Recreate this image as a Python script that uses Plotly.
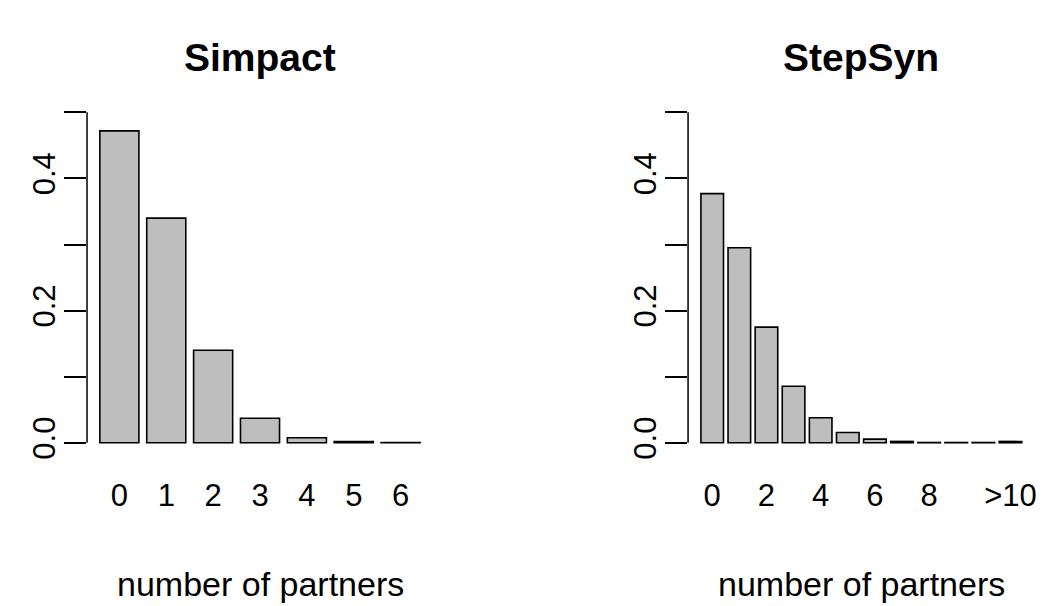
import plotly.graph_objects as go

# ---- data ----
simpact_categories = ["0", "1", "2", "3", "4", "5", "6"]
simpact_values = [0.472, 0.340, 0.140, 0.037, 0.0075, 0.002, 0.0004]

stepsyn_categories = ["0", "1", "2", "3", "4", "5", "6", "7", "8", "9", "10", ">10"]
stepsyn_values = [0.377, 0.295, 0.175, 0.0856, 0.0378, 0.0156, 0.0055, 0.002,
                  0.0004, 0.0004, 0.0004, 0.002]
stepsyn_shown_labels = ["0", "2", "4", "6", "8", ">10"]

y_tick_values = [0.0, 0.1, 0.2, 0.3, 0.4, 0.5]
y_tick_labels = ["0.0", "", "0.2", "", "0.4", ""]

panel_titles = ["Simpact", "StepSyn"]
x_title = "number of partners"

# ---- styling ----
W, H = 1043, 606
FONT = "Liberation Sans, Arial, sans-serif"
AX_FONT = 31
XLAB_FONT = 34
TITLE_FONT = 39
BAR_FILL = "#BEBEBE"

dom_left = [87.2 / W, 433.8 / W]
dom_right = [689.4 / W, 1036.6 / W]
dom_y = [1 - 459 / H, 1 - 99.8 / H]

fig = go.Figure()
fig.add_trace(go.Bar(x=simpact_categories, y=simpact_values, xaxis="x", yaxis="y",
                     marker=dict(color=BAR_FILL, line=dict(color="black", width=1.6)),
                     showlegend=False))
fig.add_trace(go.Bar(x=stepsyn_categories, y=stepsyn_values, xaxis="x2", yaxis="y2",
                     marker=dict(color=BAR_FILL, line=dict(color="black", width=1.6)),
                     showlegend=False))

common_x = dict(showgrid=False, zeroline=False, showline=False, type="category",
                ticks="", tickfont=dict(family=FONT, size=AX_FONT, color="black"),
                ticklabelstandoff=18, fixedrange=True)
common_y = dict(showgrid=False, zeroline=False, showline=False, range=[-0.02, 0.52],
                tickvals=y_tick_values, ticktext=y_tick_labels, ticks="outside",
                ticklen=22, tickwidth=1.5, tickcolor="black", tickangle=-90,
                ticklabelstandoff=-3,
                tickfont=dict(family=FONT, size=AX_FONT, color="black"), fixedrange=True)

fig.update_layout(
    width=W, height=H, margin=dict(l=0, r=0, t=0, b=0),
    paper_bgcolor="white", plot_bgcolor="white",
    bargap=1 - 1 / 1.2,
    xaxis=dict(common_x, domain=dom_left, anchor="y", range=[-0.69, 6.69],
               tickvals=simpact_categories, ticktext=simpact_categories),
    yaxis=dict(common_y, domain=dom_y, anchor="x"),
    xaxis2=dict(common_x, domain=dom_right, anchor="y2", range=[-0.89, 11.89],
                tickvals=stepsyn_shown_labels, ticktext=stepsyn_shown_labels),
    yaxis2=dict(common_y, domain=dom_y, anchor="x2"),
)

# y axis lines spanning 0 .. 0.5 only (R style)
for yref, xref in (("y", "x domain"), ("y2", "x2 domain")):
    fig.add_shape(type="line", xref=xref, yref=yref, x0=0, x1=0,
                  y0=y_tick_values[0], y1=y_tick_values[-1],
                  line=dict(color="black", width=1.5))

# titles and x-axis labels
for dom, t in zip((dom_left, dom_right), panel_titles):
    cx = (dom[0] + dom[1]) / 2
    fig.add_annotation(text=f"<b>{t}</b>", x=cx, y=1 - 58 / H, xref="paper", yref="paper",
                       showarrow=False, xanchor="center", yanchor="middle",
                       font=dict(family=FONT, size=TITLE_FONT, color="black"))
    fig.add_annotation(text=x_title, x=cx, y=1 - 588 / H, xref="paper", yref="paper",
                       showarrow=False, xanchor="center", yanchor="middle",
                       font=dict(family=FONT, size=XLAB_FONT, color="black"))

fig.write_html("out.html", config={"displayModeBar": False},
               post_script="document.body.style.margin='0';")
